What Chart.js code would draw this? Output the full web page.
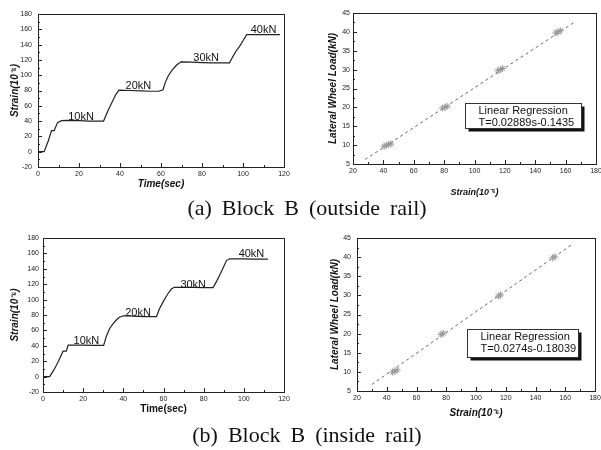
<!DOCTYPE html>
<html>
<head>
<meta charset="utf-8">
<script src="https://cdn.jsdelivr.net/npm/chart.js@4.4.0/dist/chart.umd.min.js"></script>
<style>
  body { margin: 0; background: #fff; }
  #wrap { position: relative; width: 601px; height: 450px; overflow: hidden; }
  canvas { position: absolute; }
  .cap { position: absolute; left: 0; width: 614px; text-align: center; font-family: "Liberation Serif", serif; font-size: 22px; line-height: 26px; word-spacing: 4.5px; color: #111; }
</style>
</head>
<body>
<div id="wrap">
  <canvas id="timeA" width="300" height="200" style="left:0;top:0;width:300px;height:200px"></canvas>
  <canvas id="regA" width="301" height="200" style="left:300px;top:0;width:301px;height:200px"></canvas>
  <canvas id="timeB" width="300" height="200" style="left:0;top:225px;width:300px;height:200px"></canvas>
  <canvas id="regB" width="301" height="200" style="left:300px;top:225px;width:301px;height:200px"></canvas>
  <div class="cap" style="top:195px">(a) Block B (outside rail)</div>
  <div class="cap" style="top:422px">(b) Block B (inside rail)</div>
</div>
<script>
// ---- data ----
const timeTicks = [0, 20, 40, 60, 80, 100, 120];
const strainTicks = [-20, 0, 20, 40, 60, 80, 100, 120, 140, 160, 180];
const strainTicksX = [20, 40, 60, 80, 100, 120, 140, 160, 180];
const loadTicks = [5, 10, 15, 20, 25, 30, 35, 40, 45];
const stepLabels = ['10kN', '20kN', '30kN', '40kN'];

// (a) outside rail
const timeOut = [0, 3, 5, 6.6, 7.9, 9.5, 11.5, 14, 20, 25, 32, 34, 36, 38, 39.5, 45, 50, 55, 59, 61, 62, 63.5, 65.5, 67.5, 69.7, 75, 80, 85, 93.4, 95, 96.5, 98.4, 100, 101.8, 105, 110, 118];
const strainOut = [0, 0, 14, 27.5, 27.5, 38, 40.6, 41, 40.5, 40, 40, 53, 64, 75, 80.5, 80, 79.5, 79, 79, 81, 90, 99, 107, 113, 117.5, 117, 116.5, 116, 116, 124, 131, 138, 145, 153, 153, 153, 153];
const labelTimeOut = [21, 49, 82, 110];
const labelStrainOut = [45, 86, 123, 159];

const regStrainOut = [40.5, 42, 43.5, 45, 79, 80.5, 82, 115.5, 117, 118.5, 153.5, 155, 156.5];
const regLoadOut = [9.7, 10, 10.2, 10.3, 19.8, 20, 20.3, 29.7, 30, 30.3, 39.7, 40, 40.3];
const fitStrainOut = [28, 166];
const fitLoadOut = [6.2, 42.6];

// (b) inside rail
const timeIn = [0, 3.3, 5.5, 7.5, 10, 11.6, 12.5, 15, 20, 25, 30.2, 31.5, 33.2, 35, 36.5, 38, 40, 45, 50, 56.5, 58, 59.8, 62, 64, 65.5, 70, 75, 80, 84.7, 86.5, 88, 90, 91.4, 93, 100, 105, 112];
const strainIn = [0, 0, 9, 19, 33, 33, 41, 41, 41, 40.5, 40.5, 52, 62.5, 69, 73.5, 77, 79, 78.5, 78, 78, 88, 97, 107, 114, 116, 116, 116, 115.5, 115.5, 124, 132, 143, 151, 153, 153, 152.5, 152.5];
const labelTimeIn = [21.6, 47.3, 74.8, 103.8];
const labelStrainIn = [46, 82, 119, 159];

const regStrainIn = [44, 45.5, 47, 76.5, 78, 115, 116.5, 151.5, 153];
const regLoadIn = [9.9, 10.2, 10.5, 19.8, 20.1, 29.8, 30.1, 39.8, 40.1];
const fitStrainIn = [30, 164.5];
const fitLoadIn = [6.7, 43.3];

Chart.defaults.font.family = '"Liberation Sans", Arial, sans-serif';
Chart.defaults.color = '#222';

const pts = (xs, ys) => xs.map((x, i) => ({ x: x, y: ys[i] }));

// box round the plot area plus small inward ticks
const frame = {
  id: 'frame',
  afterDatasetsDraw(chart) {
    const { ctx, chartArea: a, scales } = chart;
    ctx.save();
    ctx.strokeStyle = '#222';
    ctx.lineWidth = 1;
    ctx.strokeRect(Math.round(a.left) + 0.5, Math.round(a.top) + 0.5, Math.round(a.right - a.left), Math.round(a.bottom - a.top));
    ctx.beginPath();
    const xt = scales.x.ticks.map(t => t.value);
    xt.forEach((v, i) => {
      const px = Math.round(scales.x.getPixelForValue(v)) + 0.5;
      ctx.moveTo(px, a.bottom); ctx.lineTo(px, a.bottom - 4);
      if (i < xt.length - 1) {
        const mx = Math.round(scales.x.getPixelForValue((v + xt[i + 1]) / 2)) + 0.5;
        ctx.moveTo(mx, a.bottom); ctx.lineTo(mx, a.bottom - 2);
      }
    });
    const yt = scales.y.ticks.map(t => t.value);
    yt.forEach((v, i) => {
      const py = Math.round(scales.y.getPixelForValue(v)) + 0.5;
      ctx.moveTo(a.left, py); ctx.lineTo(a.left + 4, py);
      if (i < yt.length - 1) {
        const my = Math.round(scales.y.getPixelForValue((v + yt[i + 1]) / 2)) + 0.5;
        ctx.moveTo(a.left, my); ctx.lineTo(a.left + 2, my);
      }
    });
    ctx.stroke();
    ctx.restore();
  }
};

// step labels (10kN ...) written at data positions
const stepText = {
  id: 'stepText',
  afterDatasetsDraw(chart, args, opts) {
    if (!opts.xs) return;
    const { ctx, scales } = chart;
    ctx.save();
    ctx.font = '11px "Liberation Sans", Arial, sans-serif';
    ctx.fillStyle = '#111';
    ctx.textAlign = 'center';
    ctx.textBaseline = 'middle';
    opts.labels.forEach((s, i) => {
      ctx.fillText(s, scales.x.getPixelForValue(opts.xs[i]), scales.y.getPixelForValue(opts.ys[i]));
    });
    ctx.restore();
  }
};

// regression note box with shadow
const regBox = {
  id: 'regBox',
  afterDatasetsDraw(chart, args, opts) {
    if (!opts.lines) return;
    const { ctx, scales } = chart;
    const x0 = Math.round(scales.x.getPixelForValue(opts.x0)) + 0.5;
    const x1 = Math.round(scales.x.getPixelForValue(opts.x1)) + 0.5;
    const y0 = Math.round(scales.y.getPixelForValue(opts.y0)) + 0.5;
    const y1 = Math.round(scales.y.getPixelForValue(opts.y1)) + 0.5;
    ctx.save();
    ctx.fillStyle = '#111';
    ctx.fillRect(x0 + 3, y0 + 3, x1 - x0, y1 - y0);
    ctx.fillStyle = '#fff';
    ctx.fillRect(x0, y0, x1 - x0, y1 - y0);
    ctx.strokeStyle = '#333';
    ctx.lineWidth = 1;
    ctx.strokeRect(x0, y0, x1 - x0, y1 - y0);
    ctx.font = '11px "Liberation Sans", Arial, sans-serif';
    ctx.fillStyle = '#111';
    ctx.textBaseline = 'middle';
    ctx.fillText(opts.lines[0], x0 + 13, y0 + 7);
    ctx.fillText(opts.lines[1], x0 + 13, y0 + 19);
    ctx.restore();
  }
};

function axis(tickList, size, horiz, pad, title, titleFont, titlePad) {
  return {
    type: 'linear',
    min: tickList[0],
    max: tickList[tickList.length - 1],
    afterBuildTicks: s => { s.ticks = tickList.map(v => ({ value: v })); },
    afterFit: s => {
      if (horiz) s.height = size; else s.width = size;
      s.paddingLeft = s.paddingRight = s.paddingTop = s.paddingBottom = 0;
    },
    grid: { display: false, drawTicks: false, tickLength: 0 },
    border: { display: false },
    ticks: { font: { size: 7 }, padding: pad, color: '#222', maxRotation: 0 },
    title: { display: true, text: title, font: titleFont, padding: titlePad, color: '#111' }
  };
}

const bi = { size: 10, weight: 'bold', style: 'italic' };

function timeChart(id, xs, ys, lx, ly, area, yPad, titles) {
  return new Chart(document.getElementById(id), {
    type: 'line',
    data: {
      datasets: [{
        data: pts(xs, ys),
        borderColor: '#222',
        borderWidth: 1.2,
        pointRadius: 0,
        tension: 0
      }]
    },
    options: {
      responsive: false,
      animation: false,
      layout: { padding: { left: 0, top: area.top, right: area.w - area.right, bottom: 0 } },
      plugins: {
        legend: { display: false },
        tooltip: { enabled: false },
        stepText: { labels: stepLabels, xs: lx, ys: ly }
      },
      scales: {
        x: axis(timeTicks, area.h - area.bottom, true, 3, 'Time(sec)', titles.x, { top: 0, bottom: 10 }),
        y: axis(strainTicks, area.left, false, yPad, 'Strain(10⁻⁶)', titles.y, { top: titles.yPad, bottom: 0 })
      }
    },
    plugins: [frame, stepText]
  });
}

function regChart(id, xs, ys, fx, fy, area, yPad, xTitlePad, yTitlePad, xFont, note) {
  return new Chart(document.getElementById(id), {
    type: 'scatter',
    data: {
      datasets: [{
        data: pts(xs, ys),
        pointStyle: 'star',
        pointRadius: 3.5,
        borderColor: '#999',
        borderWidth: 1,
        backgroundColor: 'rgba(0,0,0,0)'
      }, {
        type: 'line',
        data: pts(fx, fy),
        borderColor: '#666',
        borderWidth: 1,
        borderDash: [3, 3],
        pointRadius: 0
      }]
    },
    options: {
      responsive: false,
      animation: false,
      layout: { padding: { left: 0, top: area.top, right: area.w - area.right, bottom: 0 } },
      plugins: {
        legend: { display: false },
        tooltip: { enabled: false },
        regBox: note
      },
      scales: {
        x: axis(strainTicksX, area.h - area.bottom, true, 3, 'Strain(10⁻⁶)', xFont, { top: 0, bottom: xTitlePad }),
        y: axis(loadTicks, area.left, false, yPad, 'Lateral Wheel Load(kN)', bi, { top: yTitlePad, bottom: 0 })
      }
    },
    plugins: [frame, regBox]
  });
}

timeChart('timeA', timeOut, strainOut, labelTimeOut, labelStrainOut,
  { left: 38, top: 14, right: 284, bottom: 167, w: 300, h: 200 }, 6,
  { x: bi, y: bi, yPad: 9 });

timeChart('timeB', timeIn, strainIn, labelTimeIn, labelStrainIn,
  { left: 43, top: 13, right: 284, bottom: 167, w: 300, h: 200 }, 4,
  { x: { size: 10, weight: 'bold' }, y: bi, yPad: 9 });

regChart('regA', regStrainOut, regLoadOut, fitStrainOut, fitLoadOut,
  { left: 53, top: 13, right: 298, bottom: 164, w: 301, h: 200 }, 3, 2, 27,
  { size: 9, weight: 'bold', style: 'italic' },
  { x0: 94, x1: 170, y0: 21.2, y1: 14.5, lines: ['Linear Regression', 'T=0.02889s-0.1435'] });

regChart('regB', regStrainIn, regLoadIn, fitStrainIn, fitLoadIn,
  { left: 57, top: 13, right: 295, bottom: 166, w: 301, h: 200 }, 6, 6, 29,
  bi,
  { x0: 94, x1: 168.6, y0: 21.2, y1: 13.9, lines: ['Linear Regression', 'T=0.0274s-0.18039'] });
</script>
</body>
</html>
